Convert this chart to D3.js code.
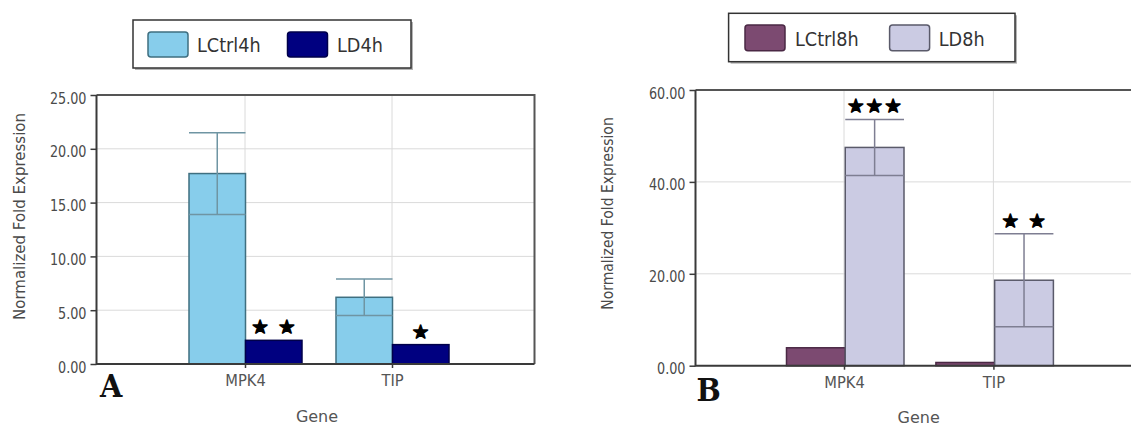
<!DOCTYPE html>
<html>
<head>
<meta charset="utf-8">
<script src="https://cdn.jsdelivr.net/npm/d3@7"></script>
<style>
  body { margin: 0; background: #fff; }
  svg { display: block; }
</style>
</head>
<body>
<svg id="chart" width="1131" height="426"></svg>
<script>
/* --- data --- */
var genes = ["MPK4", "TIP"]

var seriesA = ["LCtrl4h", "LD4h"]
var lctrl4h = [17.7, 6.2]
var lctrl4hErr = [3.8, 1.7]
var ld4h = [2.2, 1.8]
var ld4hErr = [0, 0]
var starsLD4h = ["★ ★", "★"]
var ticksA = [0, 5, 10, 15, 20, 25]

var seriesB = ["LCtrl8h", "LD8h"]
var lctrl8h = [3.9, 0.7]
var lctrl8hErr = [0, 0]
var ld8h = [47.5, 18.6]
var ld8hErr = [6.1, 10.1]
var starsLD8h = ["★★★", "★ ★"]
var ticksB = [0, 20, 40, 60]

/* --- helpers --- */
var svg = d3.select("#chart")
var FONT = "'DejaVu Sans', Verdana, sans-serif"

// squeeze a text horizontally (the source fonts are narrower than DejaVu)
function squeeze(node, k) {
  var w = node.getComputedTextLength()
  node.setAttribute("textLength", (w * k).toFixed(1))
  node.setAttribute("lengthAdjust", "spacingAndGlyphs")
}

var panels = [
  {
    series: seriesA, values: [lctrl4h, ld4h], errs: [lctrl4hErr, ld4hErr],
    stars: [null, starsLD4h], ticks: ticksA, max: 25,
    fills: ["#87cdeb", "#000080"], strokes: ["#3f6f80", "#00004a"],
    errColor: "#6f95a3",
    x0: 96.5, x1: 534.5, top: 95, bottom: 364, centers: [245, 392], band: [-56, 57],
    legend: { x: 133, y: 20, w: 278, h: 48, sw: [148, 287.5], tx: [197, 337], sy: 32, sh: 25, ty: 51.5 },
    letter: { x: 100, y: 397, t: "A" }, gene: { x: 317, y: 422 }, ytitle: { x: 19.5, y: 216.5, k: 1 }
  },
  {
    series: seriesB, values: [lctrl8h, ld8h], errs: [lctrl8hErr, ld8hErr],
    stars: [null, starsLD8h], ticks: ticksB, max: 60,
    fills: ["#7c4a71", "#cbcbe3"], strokes: ["#4a2844", "#5a5a6a"],
    errColor: "#7e7e92",
    x0: 695.5, x1: 1150, top: 90, bottom: 365.7, centers: [844, 993.4], band: [-57.5, 60],
    legend: { x: 728.6, y: 13.3, w: 286.4, h: 48.4, sw: [745, 889.6], tx: [795, 938.7], sy: 25, sh: 25.7, ty: 45.5 },
    letter: { x: 696.6, y: 401, t: "B" }, gene: { x: 918.7, y: 422.5 }, ytitle: { x: 608, y: 213.5, k: 0.93 }
  }
]

panels.forEach(function (p) {
  var g = svg.append("g")

  var y = d3.scaleLinear().domain([0, p.max]).range([p.bottom, p.top])
  var x = d3.scalePoint().domain(genes).range(p.centers)
  var sub = d3.scaleBand().domain(p.series).range(p.band)

  /* grid */
  g.append("g").selectAll("line").data(p.ticks).enter().append("line")
      .attr("x1", p.x0).attr("x2", p.x1)
      .attr("y1", function (d) { return y(d) }).attr("y2", function (d) { return y(d) })
      .attr("stroke", "#dadada").attr("stroke-width", 1)
  g.append("g").selectAll("line").data(genes).enter().append("line")
      .attr("x1", function (d) { return x(d) }).attr("x2", function (d) { return x(d) })
      .attr("y1", p.top).attr("y2", p.bottom)
      .attr("stroke", "#dadada").attr("stroke-width", 1)

  /* bars */
  p.series.forEach(function (s, si) {
    g.append("g").selectAll("rect").data(genes).enter().append("rect")
        .attr("x", function (d) { return x(d) + sub(s) })
        .attr("width", sub.bandwidth())
        .attr("y", function (d, i) { return y(p.values[si][i]) })
        .attr("height", function (d, i) { return y(0) - y(p.values[si][i]) })
        .attr("fill", p.fills[si])
        .attr("stroke", p.strokes[si]).attr("stroke-width", 1.5)
  })

  /* error bars + significance stars */
  p.series.forEach(function (s, si) {
    genes.forEach(function (gene, i) {
      var v = p.values[si][i], e = p.errs[si][i]
      var bx = x(gene) + sub(s), bw = sub.bandwidth(), cx = bx + bw / 2
      if (e > 0) {
        g.append("line").attr("x1", cx).attr("x2", cx)
            .attr("y1", y(v - e)).attr("y2", y(v + e))
            .attr("stroke", p.errColor).attr("stroke-width", 1.5)
        ;[v - e, v + e].forEach(function (c) {
          g.append("line").attr("x1", bx).attr("x2", bx + bw)
              .attr("y1", y(c)).attr("y2", y(c))
              .attr("stroke", p.errColor).attr("stroke-width", 1.5)
        })
      }
      if (p.stars[si] && p.stars[si][i]) {
        g.append("text")
            .attr("x", cx + 1).attr("y", y(v + e) - 7)
            .attr("text-anchor", "middle")
            .style("font-family", FONT).style("font-size", "18px")
            .style("letter-spacing", "2.5px")
            .attr("fill", "#000").attr("stroke", "#000")
            .attr("stroke-width", 1.6).attr("stroke-linejoin", "round")
            .text(p.stars[si][i])
      }
    })
  })

  /* frame */
  g.append("path")
      .attr("d", "M" + p.x0 + "," + p.top + "H" + p.x1 + "V" + p.bottom)
      .attr("fill", "none").attr("stroke", "#555").attr("stroke-width", 2)
  g.append("path")
      .attr("d", "M" + p.x0 + "," + p.top + "V" + p.bottom + "H" + p.x1)
      .attr("fill", "none").attr("stroke", "#3a3a3a").attr("stroke-width", 2)

  /* y axis */
  var ya = g.append("g").attr("transform", "translate(" + p.x0 + ",0)")
      .call(d3.axisLeft(y).tickValues(p.ticks).tickFormat(d3.format(".2f")).tickSize(6).tickPadding(4))
  ya.select(".domain").remove()
  ya.selectAll("line").attr("stroke", "#3a3a3a").attr("stroke-width", 1.5)
  ya.selectAll("text")
      .attr("dy", "0.5em")
      .style("font-family", FONT).style("font-size", "16px").attr("fill", "#4a4a4a")
      .each(function () { squeeze(this, 0.8) })

  /* x axis */
  var xa = g.append("g").attr("transform", "translate(0," + p.bottom + ")")
      .call(d3.axisBottom(x).tickSize(4))
  xa.select(".domain").remove()
  xa.selectAll("line").attr("stroke", "#3a3a3a").attr("stroke-width", 1.5)
  xa.selectAll("text")
      .attr("y", 22).attr("dy", 0)
      .style("font-family", FONT).style("font-size", "15px").attr("fill", "#555")
      .each(function () { squeeze(this, 0.98) })

  /* titles */
  g.append("text")
      .attr("x", p.gene.x).attr("y", p.gene.y)
      .attr("text-anchor", "middle")
      .style("font-family", FONT).style("font-size", "16px").attr("fill", "#555")
      .text("Gene")
  var yt = g.append("text")
      .attr("transform", "translate(" + p.ytitle.x + "," + p.ytitle.y + ") rotate(-90)")
      .attr("text-anchor", "middle").attr("dy", "0.35em")
      .style("font-family", FONT).style("font-size", "15px").attr("fill", "#4a4a4a")
      .text("Normalized Fold Expression")
  squeeze(yt.node(), p.ytitle.k)

  var lt = g.append("text")
      .attr("x", p.letter.x).attr("y", p.letter.y)
      .style("font-family", "'DejaVu Serif', serif").style("font-weight", "bold")
      .style("font-size", "32px").attr("fill", "#111")
      .text(p.letter.t)
  squeeze(lt.node(), 0.9)

  /* legend */
  var L = p.legend
  g.append("rect").attr("x", L.x + 2).attr("y", L.y + 2).attr("width", L.w).attr("height", L.h)
      .attr("fill", "#b5b5b5")
  g.append("rect").attr("x", L.x).attr("y", L.y).attr("width", L.w).attr("height", L.h)
      .attr("fill", "#fff").attr("stroke", "#333").attr("stroke-width", 1.5)
  p.series.forEach(function (s, si) {
    g.append("rect")
        .attr("x", L.sw[si]).attr("y", L.sy).attr("width", 40).attr("height", L.sh)
        .attr("rx", 3).attr("ry", 3)
        .attr("fill", p.fills[si]).attr("stroke", p.strokes[si]).attr("stroke-width", 1.5)
    var t = g.append("text")
        .attr("x", L.tx[si]).attr("y", L.ty)
        .style("font-family", FONT).style("font-size", "19px").attr("fill", "#333")
        .text(s)
    squeeze(t.node(), 0.93)
  })
})
</script>
</body>
</html>
